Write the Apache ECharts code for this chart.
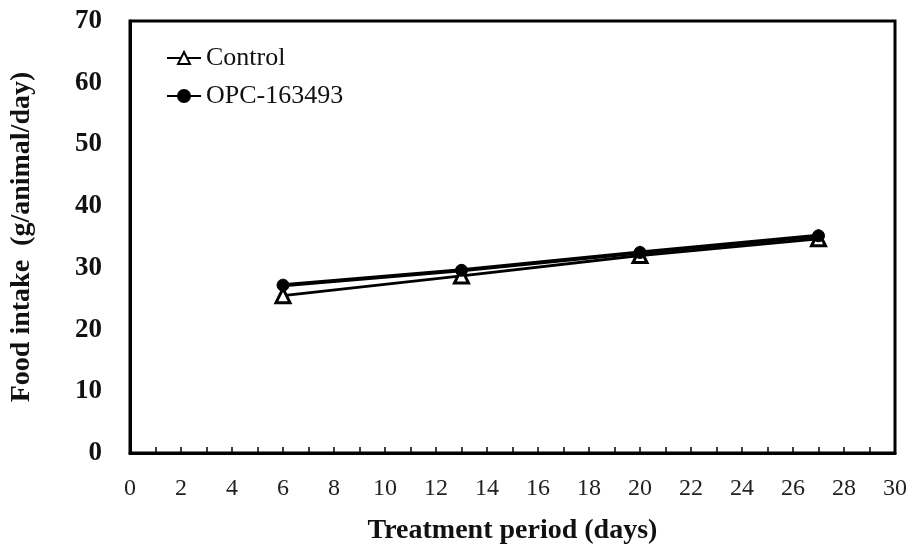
<!DOCTYPE html>
<html>
<head>
<meta charset="utf-8">
<script src="https://cdn.jsdelivr.net/npm/echarts@6/dist/echarts.min.js"></script>
<style>
  html, body { margin: 0; padding: 0; background: #fff; }
  #chart { width: 915px; height: 558px; }
</style>
</head>
<body>
<div id="chart"></div>
<script>
// Treatment days and daily food intake per group
const days = [6, 13, 20, 27];
const controlIntake = [25.5, 28.7, 32.0, 34.7];
const opcIntake = [27.2, 29.6, 32.5, 35.2];
const seriesNames = ['Control', 'OPC-163493'];

const serif = '"Liberation Serif", "Times New Roman", serif';

const chart = echarts.init(document.getElementById('chart'));
chart.setOption({
  animation: false,
  backgroundColor: '#fff',
  grid: {
    left: 129, right: 20, top: 21, bottom: 105,
    show: true, borderColor: '#000', borderWidth: 3
  },
  legend: {
    orient: 'vertical',
    left: 161, top: 40,
    itemWidth: 34, itemHeight: 15, itemGap: 12,
    textStyle: { fontFamily: serif, fontSize: 26, color: '#111' },
    data: seriesNames
  },
  xAxis: {
    type: 'value', min: 0, max: 30, interval: 2,
    name: 'Treatment period (days)',
    nameLocation: 'middle', nameGap: 64,
    nameTextStyle: { fontFamily: serif, fontSize: 28, fontWeight: 'bold', color: '#111' },
    axisLine: { show: true, lineStyle: { color: '#000', width: 3 } },
    axisTick: { show: true, inside: true, length: 6, lineStyle: { color: '#000', width: 1.5 } },
    minorTick: { show: true, splitNumber: 2, length: 6, lineStyle: { color: '#000', width: 1.5 } },
    axisLabel: { fontFamily: serif, fontSize: 24, color: '#222', margin: 24 },
    splitLine: { show: false }
  },
  yAxis: {
    type: 'value', min: 0, max: 70, interval: 10,
    name: 'Food intake  (g/animal/day)',
    nameLocation: 'middle', nameGap: 94,
    nameTextStyle: { fontFamily: serif, fontSize: 28, fontWeight: 'bold', color: '#111' },
    axisLine: { show: true, lineStyle: { color: '#000', width: 3 } },
    axisTick: { show: false },
    axisLabel: { fontFamily: serif, fontSize: 27, fontWeight: 'bold', color: '#111', margin: 28 },
    splitLine: { show: false }
  },
  series: [
    {
      name: seriesNames[0], type: 'line',
      data: days.map((d, i) => [d, controlIntake[i]]),
      symbol: 'triangle', symbolSize: 14,
      itemStyle: { color: '#fff', borderColor: '#000', borderWidth: 3 },
      lineStyle: { color: '#000', width: 3 },
      z: 2
    },
    {
      name: seriesNames[1], type: 'line',
      data: days.map((d, i) => [d, opcIntake[i]]),
      symbol: 'circle', symbolSize: 12,
      itemStyle: { color: '#000', borderColor: '#000', borderWidth: 1 },
      lineStyle: { color: '#000', width: 4 },
      z: 3
    }
  ]
});
</script>
</body>
</html>
